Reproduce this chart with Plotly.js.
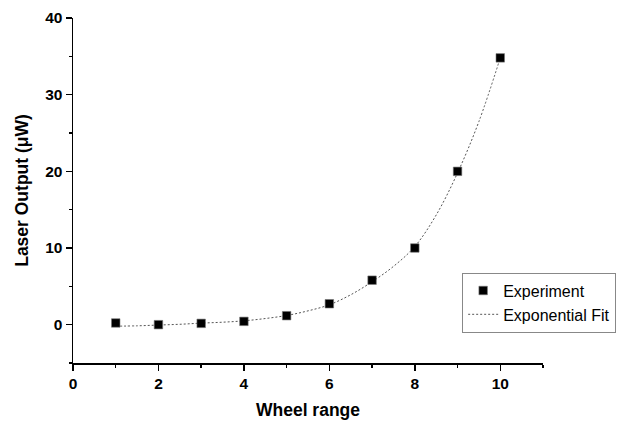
<!DOCTYPE html>
<html>
<head>
<meta charset="utf-8">
<script src="https://cdn.plot.ly/plotly-3.0.1.min.js"></script>
<style>html,body{margin:0;padding:0;background:#fff;}#chart{width:624px;height:428px;}</style>
</head>
<body>
<div id="chart"></div>
<script>
// Experimental data
const wheelRange = [1, 2, 3, 4, 5, 6, 7, 8, 9, 10];
const laserOutput = [0.22, 0.0, 0.17, 0.43, 1.17, 2.73, 5.8, 10.0, 20.0, 34.8];

// Exponential fit curve
const fitX = [1, 1.5, 2, 2.5, 3, 3.5, 4, 4.5, 5, 5.5, 6, 6.5, 7, 7.5, 8, 8.5, 9, 9.5, 10];
const fitY = [-0.2, -0.15, -0.05, 0.05, 0.2, 0.32, 0.5, 0.8, 1.2, 1.8, 2.6, 3.9, 5.6, 7.6, 10.2, 14.3, 19.8, 26.5, 34.8];

const xTicks = [0, 2, 4, 6, 8, 10];
const yTicks = [0, 10, 20, 30, 40];

const traces = [
  {
    x: fitX, y: fitY, type: 'scatter', mode: 'lines', name: 'Exponential Fit',
    line: {color: '#555555', width: 1, dash: '2px,2px', shape: 'spline'},
    legendrank: 2
  },
  {
    x: wheelRange, y: laserOutput, type: 'scatter', mode: 'markers', name: 'Experiment',
    marker: {symbol: 'square', size: 8.5, color: '#000000', line: {color: '#777777', width: 0.6}},
    legendrank: 1
  }
];

const fam = 'Arial, Liberation Sans, sans-serif';
const tickFont = {family: fam, size: 15.5, color: '#000', weight: 'bold'};

const layout = {
  width: 624, height: 428,
  margin: {l: 73, r: 81, t: 18, b: 65, autoexpand: false},
  paper_bgcolor: '#fff', plot_bgcolor: '#fff',
  showlegend: true,
  legend: {
    x: 0.828, y: 0.262, xanchor: 'left', yanchor: 'top',
    bordercolor: '#888888', borderwidth: 1, bgcolor: '#fff',
    font: {family: fam, size: 16, color: '#000'},
    traceorder: 'normal', itemwidth: 30, tracegroupgap: 0
  },
  xaxis: {
    range: [0, 11], tickvals: xTicks, ticktext: xTicks.map(String),
    showgrid: false, zeroline: false, showline: true, linecolor: '#000', linewidth: 1.5,
    ticks: 'outside', ticklen: 6, tickwidth: 1.5, tickcolor: '#000',
    minor: {ticks: 'outside', ticklen: 3, tickwidth: 1.5, tickcolor: '#000', dtick: 1, tick0: 0, showgrid: false},
    tickfont: tickFont, automargin: false,
    title: {text: 'Wheel range', font: {family: fam, size: 17.5, color: '#000', weight: 'bold'}, standoff: 12}
  },
  yaxis: {
    range: [-5, 40], tickvals: yTicks, ticktext: yTicks.map(String),
    showgrid: false, zeroline: false, showline: true, linecolor: '#000', linewidth: 1.5,
    ticks: 'outside', ticklen: 6, tickwidth: 1.5, tickcolor: '#000',
    minor: {ticks: 'outside', ticklen: 3, tickwidth: 1.5, tickcolor: '#000', dtick: 5, tick0: 0, showgrid: false},
    tickfont: tickFont, automargin: false,
    title: {text: 'Laser Output (μW)', font: {family: fam, size: 17.5, color: '#000', weight: 'bold'}, standoff: 12}
  }
};

Plotly.newPlot('chart', traces, layout, {displayModeBar: false, staticPlot: true});
</script>
</body>
</html>
